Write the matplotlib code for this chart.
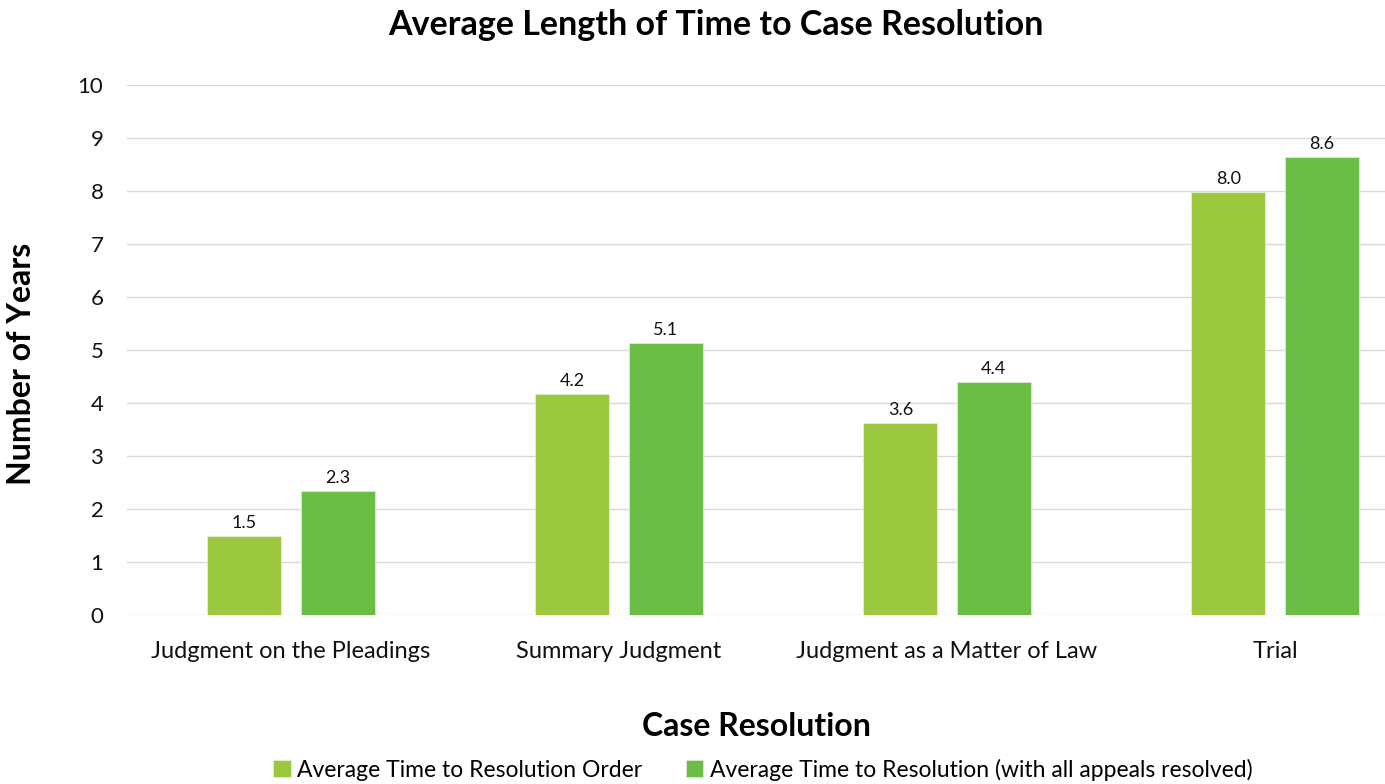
import numpy as np
import matplotlib.pyplot as plt

categories = ["Judgment on the Pleadings", "Summary Judgment",
              "Judgment as a Matter of Law", "Trial"]
order_years = [1.49, 4.17, 3.62, 7.98]
appeals_years = [2.34, 5.13, 4.40, 8.64]
series_names = ["Average Time to Resolution Order",
                "Average Time to Resolution (with all appeals resolved)"]

plt.rcParams['font.family'] = ['Lato', 'DejaVu Sans']

fig = plt.figure(figsize=(13.85, 7.84), dpi=100)
ax = fig.add_axes([127 / 1385, 1 - 615 / 784, 1 - 127 / 1385, (615 - 85) / 784])

x = np.arange(len(categories))
w = 0.2256
off = 0.1418
b1 = ax.bar(x - off, order_years, w, color="#9BC83F", edgecolor="#e4eed6", linewidth=0.6,
            label=series_names[0], zorder=3)
b2 = ax.bar(x + off, appeals_years, w, color="#6BBD45", edgecolor="#dcebd3", linewidth=0.6,
            label=series_names[1], zorder=3)

for bars, vals in [(b1, order_years), (b2, appeals_years)]:
    for rect, v in zip(bars, vals):
        ax.text(rect.get_x() + rect.get_width() / 2, v + 0.1, f"{v:.1f}",
                ha="center", va="bottom", fontsize=13, color="#111111")

ax.set_ylim(0, 10)
ax.set_xlim(-0.5, (1385 - 127) / 328 - 0.5)
ax.set_yticks(range(0, 11))
ax.set_xticks(x)
ax.set_xticklabels(categories)
ax.tick_params(axis="both", length=0, colors="#111111")
ax.tick_params(axis="y", pad=17, labelsize=16)
ax.tick_params(axis="x", pad=19, labelsize=17)
ax.grid(axis="y", color="#d9d9d9", linewidth=1, zorder=0)
for s in ax.spines.values():
    s.set_visible(False)

ax.set_ylabel("Number of Years", fontsize=23, fontweight="bold")
ax.yaxis.set_label_coords(-0.0725, 0.474)
ax.set_xlabel("Case Resolution", fontsize=23, fontweight="bold", labelpad=36)
fig.suptitle("Average Length of Time to Case Resolution", fontsize=24.5,
             fontweight="bold", x=0.517, y=0.988, va="top")

fig.legend(handles=[b1, b2], loc="lower center", bbox_to_anchor=(0.551, -0.022),
           ncol=2, frameon=False, fontsize=16.5, handlelength=0.75, handleheight=0.75,
           handletextpad=0.3, columnspacing=1.9)

fig.savefig("out.png", dpi=100)
